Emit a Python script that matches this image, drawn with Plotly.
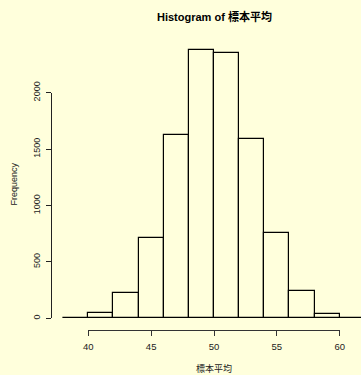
import plotly.graph_objects as go

# Data
bin_lefts = [38, 40, 42, 44, 46, 48, 50, 52, 54, 56, 58, 60]
counts = [5, 44, 227, 712, 1622, 2381, 2349, 1590, 756, 239, 41, 5]
bin_width = 2
x_ticks = [40, 45, 50, 55, 60]
y_ticks = [0, 500, 1000, 1500, 2000]
title_text = "Histogram of 標本平均"
x_title = "標本平均"
y_title = "Frequency"

W, H = 361, 375
BG = "#FFFFDC"
FONT = "Liberation Sans, Arial, Noto Sans CJK JP"

# pixel calibration
x40_px, x60_px = 88.3, 339.7
ppu_x = (x60_px - x40_px) / 20.0
y0_px, y2000_px = 318.3, 92.7
ppu_y = (y0_px - y2000_px) / 2000.0

xr = [40 - x40_px / ppu_x, 40 + (W - x40_px) / ppu_x]
yr = [-(H - y0_px) / ppu_y, y0_px / ppu_y]

centers = [b + bin_width / 2 for b in bin_lefts]

fig = go.Figure()
fig.add_trace(go.Bar(
    x=centers, y=counts, width=[bin_width] * len(counts),
    marker=dict(color="rgba(0,0,0,0)", line=dict(color="black", width=1.2)),
    hoverinfo="skip", showlegend=False,
))
# invisible trace that activates the detached R-style axes
fig.add_trace(go.Scatter(x=[50], y=[0], xaxis="x2", yaxis="y2", mode="markers",
                         marker=dict(opacity=0), hoverinfo="skip", showlegend=False))

fig.update_layout(
    width=W, height=H,
    margin=dict(l=0, r=0, t=0, b=0, pad=0, autoexpand=False),
    paper_bgcolor=BG, plot_bgcolor="rgba(0,0,0,0)",
    font=dict(family=FONT, size=9, color="#222"),
    bargap=0,
    xaxis=dict(domain=[0, 1], range=xr, visible=False, fixedrange=True, automargin=False),
    yaxis=dict(domain=[0, 1], range=yr, visible=False, fixedrange=True, automargin=False),
    xaxis2=dict(
        domain=[x40_px / W, x60_px / W], range=[40, 60], anchor="free",
        position=(H - 330) / H, side="bottom", automargin=False,
        tickvals=x_ticks, ticks="outside", ticklen=5, tickwidth=1, tickcolor="#333",
        showline=True, linecolor="#333", linewidth=1, showgrid=False, zeroline=False,
        tickfont=dict(size=9.5, color="#222"), ticklabelstandoff=3, fixedrange=True,
    ),
    yaxis2=dict(
        domain=[(H - y0_px) / H, (H - y2000_px) / H], range=[0, 2000], anchor="free",
        position=51 / W, side="left", automargin=False,
        tickvals=y_ticks, ticks="outside", ticklen=5, tickwidth=1, tickcolor="#222",
        showline=True, linecolor="#222", linewidth=1, showgrid=False, zeroline=False,
        tickangle=-90, tickfont=dict(size=9, color="#222"), fixedrange=True,
        ticklabelstandoff=2,
    ),
    annotations=[
        dict(text="<b>" + title_text + "</b>", x=214 / W, y=(H - 16.5) / H,
             xref="paper", yref="paper", showarrow=False,
             font=dict(size=11, color="#000"), xanchor="center", yanchor="middle"),
        dict(text=x_title, x=214 / W, y=(H - 368) / H, xref="paper", yref="paper",
             showarrow=False, font=dict(size=9, color="#222"),
             xanchor="center", yanchor="middle"),
        dict(text=y_title, x=13.5 / W, y=(H - 184) / H, xref="paper", yref="paper",
             showarrow=False, textangle=-90, font=dict(size=9, color="#222"),
             xanchor="center", yanchor="middle"),
    ],
)

fig.write_html(
    "out.html",
    config={"displayModeBar": False},
    post_script="document.body.style.margin='0';document.body.style.padding='0';"
                "document.documentElement.style.background='%s';" % BG,
)
